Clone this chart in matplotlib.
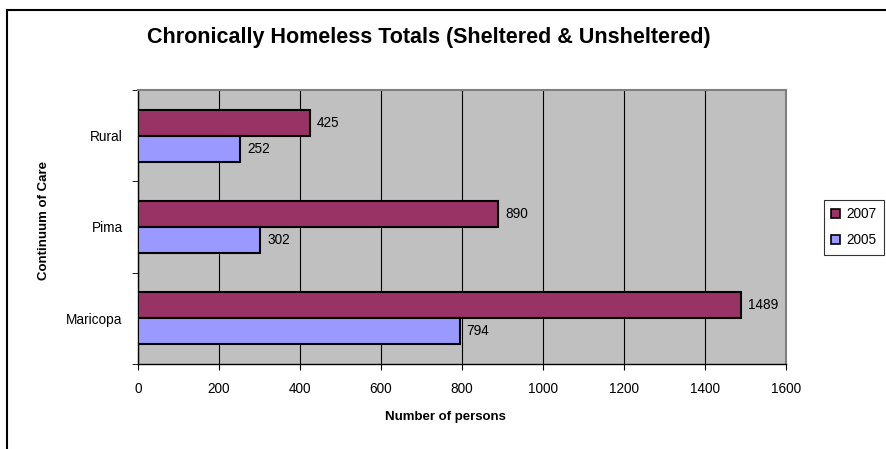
import matplotlib
matplotlib.use("Agg")
import matplotlib.pyplot as plt
from matplotlib.lines import Line2D
from matplotlib.patches import Patch
import numpy as np

plt.rcParams['font.family'] = ['Liberation Sans', 'DejaVu Sans']

categories = ["Maricopa", "Pima", "Rural"]
values_2007 = [1489, 890, 425]
values_2005 = [794, 302, 252]
series_names = ["2007", "2005"]
xticks = [0, 200, 400, 600, 800, 1000, 1200, 1400, 1600]

W, H = 887, 449
fig = plt.figure(figsize=(W / 100, H / 100), dpi=100)
ax = fig.add_axes([138 / W, 1 - 364 / H, (786 - 138) / W, (364 - 90) / H])
ax.set_facecolor('#C0C0C0')

y = np.arange(len(categories))
bh = 0.285
c07, c05 = '#993366', '#9999FF'
b1 = ax.barh(y + bh / 2, values_2007, height=bh, color=c07, edgecolor='black', linewidth=1.5, zorder=3)
b2 = ax.barh(y - bh / 2, values_2005, height=bh, color=c05, edgecolor='black', linewidth=1.5, zorder=3)

for bars, vals in ((b1, values_2007), (b2, values_2005)):
    for rect, v in zip(bars, vals):
        ax.annotate(str(v), (v, rect.get_y() + rect.get_height() / 2),
                    xytext=(5, 0), textcoords='offset points',
                    ha='left', va='center', fontsize=9.8, color='black', zorder=4)

ax.set_xlim(0, 1600)
ax.set_ylim(-0.5, len(categories) - 0.5)
ax.set_xticks(xticks)
ax.set_xticklabels([str(t) for t in xticks], fontsize=9.8)
ax.xaxis.grid(True, color='black', linewidth=0.8, zorder=1)
ax.set_axisbelow(True)

ax.set_yticks(y)
ax.set_yticklabels(categories, fontsize=9.8)
ax.set_yticks(np.arange(-0.5, len(categories), 1.0), minor=True)
ax.tick_params(axis='y', which='major', length=0, pad=11)
ax.tick_params(axis='y', which='minor', length=4, direction='out', color='black')
ax.tick_params(axis='x', which='major', length=4, direction='out', pad=9, color='black')

for s in ('top', 'right'):
    ax.spines[s].set_color('#808080')
    ax.spines[s].set_linewidth(1.5)
for s in ('left', 'bottom'):
    ax.spines[s].set_color('black')
    ax.spines[s].set_linewidth(1.0)

fig.text(445 / W, 1 - 417 / H, "Number of persons", ha='center', va='center',
         fontsize=9.5, fontweight='bold')
fig.text(44 / W, 1 - 221 / H, "Continuum of Care", ha='center', va='center',
         rotation=90, fontsize=9.5, fontweight='bold')

fig.text(429 / W, 1 - 38 / H, "Chronically Homeless Totals (Sheltered & Unsheltered)",
         ha='center', va='center', fontsize=15.5, fontweight='bold')

handles = [Patch(facecolor=c07, edgecolor='black', linewidth=1.2),
           Patch(facecolor=c05, edgecolor='black', linewidth=1.2)]
leg = fig.legend(handles, series_names, loc='upper left',
                 bbox_to_anchor=(824 / W, 1 - 200 / H), fontsize=9.8,
                 frameon=True, fancybox=False, edgecolor='black',
                 handlelength=0.65, handleheight=0.65, handletextpad=0.45,
                 borderpad=0.55, labelspacing=0.85, borderaxespad=0)
leg.get_frame().set_linewidth(0.8)

# outer chart frame (left and top edges visible)
fig.add_artist(Line2D([7 / W, 7 / W], [0, 1 - 10 / H], transform=fig.transFigure, color='black', linewidth=1.5))
fig.add_artist(Line2D([7 / W, 1], [1 - 10 / H, 1 - 10 / H], transform=fig.transFigure, color='black', linewidth=1.5))

fig.savefig("out.png", dpi=100)
